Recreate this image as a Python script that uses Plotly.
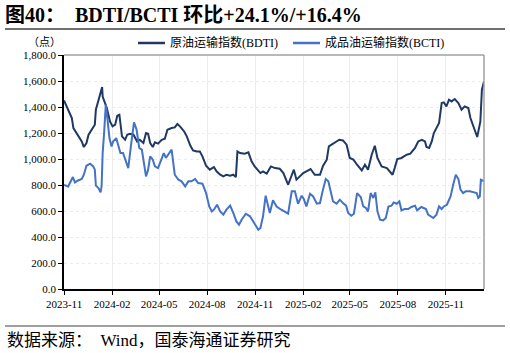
import plotly.graph_objects as go

# ---------------- data ----------------
bdti_dates = [
    "2023-11-01", "2023-11-09", "2023-11-16", "2023-11-19", "2023-11-28", "2023-12-05", "2023-12-09",
    "2023-12-14", "2023-12-18", "2023-12-27", "2023-12-30", "2024-01-01", "2024-01-06", "2024-01-09",
    "2024-01-13", "2024-01-14", "2024-01-18", "2024-01-22", "2024-01-28", "2024-02-02", "2024-02-07",
    "2024-02-11", "2024-02-15", "2024-02-18", "2024-02-20", "2024-02-26", "2024-03-01", "2024-03-06",
    "2024-03-13", "2024-03-20", "2024-03-25", "2024-04-01", "2024-04-06", "2024-04-10", "2024-04-14",
    "2024-04-19", "2024-04-23", "2024-04-29", "2024-05-06", "2024-05-12", "2024-05-17", "2024-05-25",
    "2024-05-31", "2024-06-05", "2024-06-10", "2024-06-18", "2024-06-23", "2024-06-30", "2024-07-05",
    "2024-07-12", "2024-07-18", "2024-07-23", "2024-07-30", "2024-08-06", "2024-08-14", "2024-08-19",
    "2024-08-26", "2024-09-01", "2024-09-07", "2024-09-14", "2024-09-20", "2024-09-25", "2024-09-28",
    "2024-10-03", "2024-10-12", "2024-10-19", "2024-10-25", "2024-10-31", "2024-11-07", "2024-11-11",
    "2024-11-16", "2024-11-23", "2024-12-01", "2024-12-09", "2024-12-18", "2024-12-25", "2025-01-03",
    "2025-01-10", "2025-01-14", "2025-01-19", "2025-01-26", "2025-02-01", "2025-02-07", "2025-02-15",
    "2025-02-23", "2025-03-05", "2025-03-11", "2025-03-18", "2025-03-22", "2025-03-27", "2025-04-03",
    "2025-04-11", "2025-04-18", "2025-04-25", "2025-05-01", "2025-05-08", "2025-05-15", "2025-05-24",
    "2025-05-30", "2025-06-05", "2025-06-12", "2025-06-18", "2025-06-23", "2025-07-01", "2025-07-11",
    "2025-07-17", "2025-07-22", "2025-07-26", "2025-07-31", "2025-08-08", "2025-08-13", "2025-08-18",
    "2025-08-25", "2025-09-03", "2025-09-09", "2025-09-16", "2025-09-22", "2025-09-25", "2025-09-30",
    "2025-10-05", "2025-10-09", "2025-10-14", "2025-10-19", "2025-10-24", "2025-10-28", "2025-11-02",
    "2025-11-07", "2025-11-12", "2025-11-18", "2025-11-25", "2025-12-01", "2025-12-07", "2025-12-14",
    "2025-12-18", "2025-12-25", "2025-12-31", "2026-01-06", "2026-01-09", "2026-01-13",
]
bdti_values = [
    1450, 1379, 1315, 1238, 1174, 1135, 1092,
    1123, 1187, 1238, 1264, 1379, 1456, 1481,
    1554, 1481, 1443, 1392, 1289, 1251, 1264,
    1333, 1341, 1251, 1174, 1148, 1187, 1194,
    1187, 1135, 1148, 1123, 1200, 1194, 1123,
    1092, 1128, 1118, 1148, 1156, 1225, 1238,
    1243, 1269, 1251, 1212, 1174, 1102, 1066,
    1058, 1058, 1020, 948, 918, 938, 905,
    879, 866, 879, 871, 879, 861, 1058,
    1046, 1041, 1051, 982, 943, 905, 892,
    905, 887, 943, 930, 925, 892, 802,
    879, 918, 841, 866, 892, 905, 923,
    879, 879, 948, 995, 1097, 1110, 1123,
    1148, 1143, 1110, 1008, 995, 956, 912,
    956, 918, 1033, 1102, 1008, 943, 930,
    905, 879, 930, 1000, 1008, 1020, 1033,
    1041, 1085, 1135, 1148, 1135, 1092, 1085,
    1135, 1200, 1238, 1277, 1431, 1436, 1405,
    1456, 1443, 1461, 1431, 1379, 1405, 1392,
    1315, 1238, 1169, 1287, 1533, 1597,
]

bcti_dates = [
    "2023-11-01", "2023-11-09", "2023-11-18", "2023-11-22", "2023-11-28", "2023-12-05", "2023-12-09",
    "2023-12-14", "2023-12-21", "2023-12-27", "2023-12-30", "2024-01-01", "2024-01-06", "2024-01-10",
    "2024-01-12", "2024-01-14", "2024-01-17", "2024-01-20", "2024-01-23", "2024-01-27", "2024-01-31",
    "2024-02-03", "2024-02-09", "2024-02-13", "2024-02-17", "2024-02-22", "2024-02-28", "2024-03-03",
    "2024-03-08", "2024-03-14", "2024-03-19", "2024-03-24", "2024-03-29", "2024-04-02", "2024-04-06",
    "2024-04-10", "2024-04-14", "2024-04-19", "2024-04-23", "2024-04-29", "2024-05-06", "2024-05-10",
    "2024-05-14", "2024-05-19", "2024-05-25", "2024-05-31", "2024-06-07", "2024-06-13", "2024-06-20",
    "2024-06-26", "2024-07-02", "2024-07-09", "2024-07-15", "2024-07-23", "2024-07-30", "2024-08-05",
    "2024-08-10", "2024-08-14", "2024-08-20", "2024-08-26", "2024-09-01", "2024-09-07", "2024-09-14",
    "2024-09-20", "2024-09-26", "2024-10-01", "2024-10-06", "2024-10-14", "2024-10-22", "2024-10-30",
    "2024-11-07", "2024-11-11", "2024-11-16", "2024-11-21", "2024-11-26", "2024-11-29", "2024-12-05",
    "2024-12-12", "2024-12-21", "2024-12-30", "2025-01-03", "2025-01-10", "2025-01-16", "2025-01-22",
    "2025-01-29", "2025-02-02", "2025-02-07", "2025-02-14", "2025-02-20", "2025-02-27", "2025-03-05",
    "2025-03-10", "2025-03-16", "2025-03-21", "2025-03-25", "2025-03-30", "2025-04-06", "2025-04-12",
    "2025-04-18", "2025-04-24", "2025-04-28", "2025-05-04", "2025-05-09", "2025-05-15", "2025-05-22",
    "2025-05-27", "2025-06-01", "2025-06-05", "2025-06-10", "2025-06-15", "2025-06-19", "2025-06-23",
    "2025-06-28", "2025-07-04", "2025-07-09", "2025-07-14", "2025-07-20", "2025-07-24", "2025-07-30",
    "2025-08-04", "2025-08-08", "2025-08-14", "2025-08-21", "2025-08-27", "2025-09-03", "2025-09-07",
    "2025-09-15", "2025-09-24", "2025-09-28", "2025-10-08", "2025-10-14", "2025-10-19", "2025-10-24",
    "2025-10-28", "2025-11-03", "2025-11-10", "2025-11-15", "2025-11-20", "2025-11-25", "2025-11-29",
    "2025-12-04", "2025-12-09", "2025-12-17", "2025-12-25", "2025-12-30", "2026-01-02", "2026-01-05",
    "2026-01-07", "2026-01-13",
]
bcti_values = [
    800, 789, 861, 820, 835, 846, 879,
    948, 964, 943, 918, 795, 777, 743,
    789, 1046, 1212, 1418, 1315, 1161, 1097,
    1135, 1161, 1097, 1046, 1046, 969, 930,
    1097, 1282, 1225, 1085, 1072, 969, 866,
    918, 1020, 995, 943, 930, 995, 1046,
    1008, 1033, 1072, 879, 841, 828, 789,
    828, 828, 846, 815, 810, 738, 635,
    597, 610, 648, 597, 572, 610, 641,
    585, 520, 495, 533, 579, 559, 508,
    456, 469, 559, 718, 635, 585, 682,
    635, 610, 585, 579, 751, 751, 656,
    718, 692, 635, 733, 712, 656, 661,
    751, 846, 828, 751, 674, 656, 687,
    661, 641, 585, 564, 579, 738, 708,
    635, 623, 597, 738, 700, 743, 597,
    533, 528, 546, 635, 641, 666, 656,
    674, 605, 615, 615, 631, 641, 605,
    631, 615, 572, 546, 572, 635, 615,
    635, 648, 712, 802, 879, 846, 764,
    738, 751, 751, 743, 738, 700, 712,
    840, 830,
]

series_names = ["原油运输指数(BDTI)", "成品油运输指数(BCTI)"]
series_colors = ["#1f3864", "#4472c4"]
title_text = "<b>图40：  BDTI/BCTI 环比+24.1%/+16.4%</b>"
source_text = "数据来源：  Wind，国泰海通证券研究"
unit_text = "（点）"
x_range = ["2023-11-01", "2026-01-13"]
y_range = [0, 1800]

# ---------------- figure ----------------
FONT = "Liberation Serif, Noto Sans CJK SC, serif"
W, H = 510, 353
ML, MR, MT, MB = 64, 26, 55, 64
PW, PH = W - ML - MR, H - MT - MB


def px_x(px):
    return (px - ML) / PW


def px_y(py):
    return (H - MB - py) / PH


fig = go.Figure()
for name, xs, ys, col in [
    (series_names[0], bdti_dates, bdti_values, series_colors[0]),
    (series_names[1], bcti_dates, bcti_values, series_colors[1]),
]:
    fig.add_trace(go.Scatter(x=xs, y=ys, mode="lines", name=name,
                             line=dict(color=col, width=2), showlegend=False))

# legend drawn as line samples + labels (placement only)
legend_shapes = []
legend_annots = []
for i, (name, col) in enumerate(zip(series_names, series_colors)):
    x0 = 138 + i * 155
    legend_shapes.append(dict(type="line", xref="paper", yref="paper",
                              x0=px_x(x0), x1=px_x(x0 + 27), y0=px_y(43), y1=px_y(43),
                              line=dict(color=col, width=2.5)))
    legend_annots.append(dict(text=name, xref="paper", yref="paper", x=px_x(x0 + 30),
                              y=px_y(43), xanchor="left", yanchor="middle", showarrow=False,
                              font=dict(family=FONT, size=12, color="#000000")))

fig.update_layout(
    width=W, height=H,
    margin=dict(l=ML, r=MR, t=MT, b=MB),
    paper_bgcolor="white", plot_bgcolor="white",
    font=dict(family=FONT, size=11, color="#000000"),
    title=dict(text=title_text, x=5 / W, xref="container", xanchor="left",
               y=1 - 15 / H, yref="container", yanchor="middle",
               font=dict(family=FONT, size=20, color="#000000")),
    showlegend=False,
    xaxis=dict(type="date", range=x_range, tick0="2023-11-01", dtick="M3",
               tickformat="%Y-%m", ticks="outside", ticklen=4, tickcolor="#000000",
               showline=True, linecolor="#000000", linewidth=1.5,
               showgrid=True, gridcolor="#ececec", gridwidth=1, zeroline=False,
               tickfont=dict(family=FONT, size=11)),
    yaxis=dict(range=y_range, dtick=200, tickformat=",.1f", ticks="outside", ticklen=4,
               tickcolor="#000000", showline=True, linecolor="#000000", linewidth=1.5,
               showgrid=True, gridcolor="#ececec", griddash="dot", gridwidth=1,
               zeroline=False, tickfont=dict(family=FONT, size=11)),
    shapes=[
        dict(type="line", xref="paper", yref="paper", x0=px_x(5), x1=px_x(505),
             y0=px_y(29), y1=px_y(29), line=dict(color="#404040", width=1.5)),
        dict(type="line", xref="paper", yref="paper", x0=px_x(5), x1=px_x(505),
             y0=px_y(326), y1=px_y(326), line=dict(color="#808080", width=1.5)),
        dict(type="line", xref="paper", yref="paper", x0=0, x1=1, y0=1, y1=1,
             line=dict(color="#a0a0a0", width=1.5)),
        dict(type="line", xref="paper", yref="paper", x0=1, x1=1, y0=0, y1=1,
             line=dict(color="#a0a0a0", width=1.5)),
    ] + legend_shapes,
    annotations=[
        dict(text=unit_text, xref="paper", yref="paper", x=px_x(44), y=px_y(42),
             xanchor="center", yanchor="middle", showarrow=False,
             font=dict(family=FONT, size=11, color="#000000")),
        dict(text=source_text, xref="paper", yref="paper", x=px_x(5), y=px_y(340),
             xanchor="left", yanchor="middle", showarrow=False,
             font=dict(family=FONT, size=17, color="#000000")),
    ] + legend_annots,
)

fig.write_html("out.html")
